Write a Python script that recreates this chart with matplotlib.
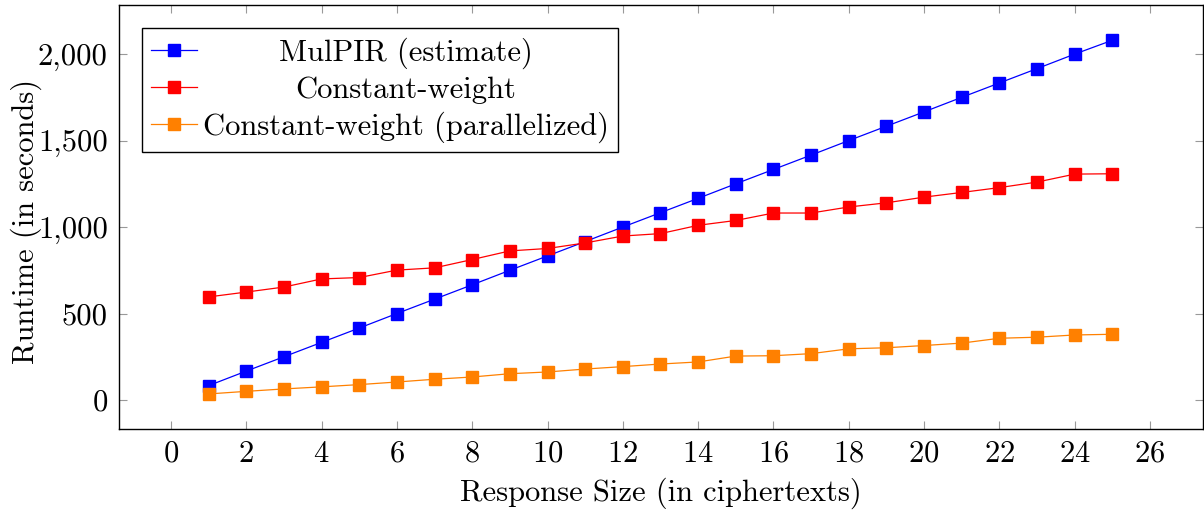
import matplotlib
matplotlib.use("Agg")
from matplotlib import pyplot as plt
from matplotlib.ticker import FuncFormatter, MultipleLocator

plt.rcParams["font.family"] = "serif"
plt.rcParams["font.serif"] = ["cmr10"]
plt.rcParams["mathtext.fontset"] = "cm"
plt.rcParams["axes.formatter.use_mathtext"] = True

sizes = list(range(1, 26))
mulpir = [83, 167, 250, 333, 416, 500, 583, 666, 750, 833, 916, 1000, 1083,
          1166, 1250, 1333, 1416, 1500, 1583, 1666, 1750, 1833, 1916, 2000, 2080]
const_weight = [596, 624, 653, 700, 708, 751, 764, 812, 862, 876, 908, 948, 962,
                1010, 1038, 1081, 1081, 1116, 1140, 1173, 1200, 1228, 1260, 1306, 1308]
const_weight_par = [35, 50, 64, 76, 89, 104, 120, 133, 152, 162, 179, 193, 208,
                    220, 254, 256, 268, 296, 302, 315, 329, 357, 363, 376, 380]

fig = plt.figure(figsize=(12.04, 5.12), dpi=100)
ax = fig.add_axes([0.0988, 0.162, 0.9002, 0.828])

ax.plot(sizes, mulpir, "-s", color=(0, 0, 1), lw=0.9, ms=8.5,
        label="MulPIR (estimate)")
ax.plot(sizes, const_weight, "-s", color=(1, 0, 0), lw=0.9, ms=8.5,
        label="Constant-weight")
ax.plot(sizes, const_weight_par, "-s", color=(1, 0.5, 0), lw=0.9, ms=8.5,
        label="Constant-weight (parallelized)")

ax.set_xlim(-1.38, 27.4)
ax.set_ylim(-168, 2283)
ax.xaxis.set_major_locator(MultipleLocator(2))
ax.yaxis.set_major_locator(MultipleLocator(500))
ax.yaxis.set_major_formatter(FuncFormatter(lambda v, p: f"{int(v):,}"))
ax.tick_params(direction="in", top=True, right=True, length=6, width=0.8,
               color="#999999", labelsize=22, pad=8)
for s in ax.spines.values():
    s.set_linewidth(1.0)

ax.set_xlabel("Response Size (in ciphertexts)", fontsize=22, labelpad=7)
ax.set_ylabel("Runtime (in seconds)", fontsize=22)
# pgfplots puts the y label close, overlapping the tick label column a bit
ax.yaxis.set_label_coords(-0.071, 0.49)

leg = ax.legend(loc="upper left", fontsize=22, frameon=True, fancybox=False,
                edgecolor="black", framealpha=1, borderaxespad=0.75,
                handlelength=1.5, handletextpad=0.2, labelspacing=0.25,
                borderpad=0.3)
leg.get_frame().set_linewidth(1.0)

# centre the legend texts like pgfplots does
fig.canvas.draw()
r = fig.canvas.get_renderer()
widths = [t.get_window_extent(r).width for t in leg.get_texts()]
wmax = max(widths)
for t, w in zip(leg.get_texts(), widths):
    t.set_x((wmax - w) / 2)

fig.savefig("out.png", dpi=100)
